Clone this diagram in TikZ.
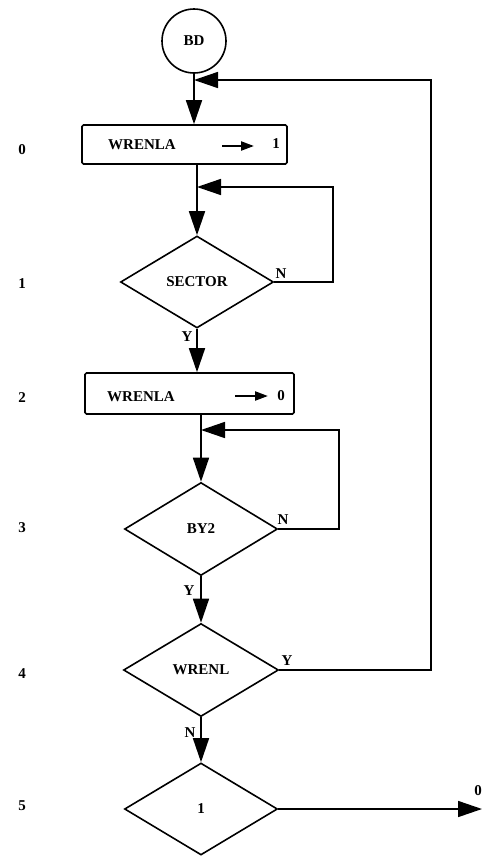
\documentclass[tikz,border=0pt]{standalone}
\usepackage{fontspec}
\setmainfont{Liberation Serif}
\usetikzlibrary{shapes.geometric,arrows.meta}
\begin{document}
\begin{tikzpicture}[x=1pt,y=-1pt,
  line width=1.6pt,
  lbl/.style={font=\bfseries\fontsize{15}{17}\selectfont},
  boxn/.style={draw,rectangle,rounded corners=1.5pt,inner sep=0pt},
  dia/.style={draw,diamond,aspect=1.66,inner sep=0pt,font=\bfseries\fontsize{15}{17}\selectfont},
  big/.style={-{Triangle[length=24pt,width=16pt]}},
  small/.style={-{Triangle[length=13pt,width=9pt]}, line width=2.2pt},
  every node/.style={lbl}]
\useasboundingbox (0,0) rectangle (483,857);

% side numbers
\node (n0) at (22,150) {0};
\node (n1) at (22,284) {1};
\node (n2) at (22,398) {2};
\node (n3) at (22,528) {3};
\node (n4) at (22,674) {4};
\node (n5) at (22,806) {5};

% nodes
\node[draw,circle,minimum size=64pt,inner sep=0pt] (BD) at (194,41) {BD};
\node[boxn,minimum width=205pt,minimum height=39pt] (b0) at (184.5,144.5) {};
\node (b0t) at (142,145) {WRENLA};
\coordinate (b0a) at (222,146);
\coordinate (b0b) at (254,146);
\node (b0v) at (276,144) {1};

\node[dia,minimum width=153pt,minimum height=92pt] (d1) at (197,282) {SECTOR};

\node[boxn,minimum width=209pt,minimum height=41pt] (b2) at (189.5,393.5) {};
\node (b2t) at (141,397) {WRENLA};
\coordinate (b2a) at (235,396);
\coordinate (b2b) at (268,396);
\node (b2v) at (281,396) {0};

\node[dia,minimum width=153pt,minimum height=93pt] (d3) at (201,529) {BY2};
\node[dia,minimum width=155pt,minimum height=93pt] (d4) at (201,670) {WRENL};
\node[dia,minimum width=153pt,minimum height=92pt] (d5) at (201,809) {1};

% loop corners
\coordinate (r1b) at (333,187);
\coordinate (j1) at (197,187);
\coordinate (r3b) at (339,430);
\coordinate (j3) at (201,430);
\coordinate (r4b) at (431,80);
\coordinate (j0) at (194,80);
\coordinate (out) at (482,809);

% arrows inside boxes
\draw[small] (b0a) -- (b0b);
\draw[small] (b2a) -- (b2b);

% main flow
\draw[big] (BD.south) -- (BD.south |- b0.north);
\draw[big] (d1.north |- b0.south) -- (d1.north);
\draw[big] (d1.south) -- (d1.south |- b2.north);
\draw[big] (d3.north |- b2.south) -- (d3.north);
\draw[big] (d3.south) -- (d4.north);
\draw[big] (d4.south) -- (d5.north);
\draw[big] (d5.east) -- (out);

% feedback loops
\draw[big] (d1.east) -- (d1.east -| r1b) -- (r1b) -- (j1);
\draw[big] (d3.east) -- (d3.east -| r3b) -- (r3b) -- (j3);
\draw[big] (d4.east) -- (d4.east -| r4b) -- (r4b) -- (j0);

% branch labels
\node (l1n) at (281,274) {N};
\node (l1y) at (187,337) {Y};
\node (l3n) at (283,520) {N};
\node (l3y) at (189,591) {Y};
\node (l4y) at (287,661) {Y};
\node (l4n) at (190,733) {N};
\node (l5o) at (478,791) {0};
\end{tikzpicture}
\end{document}
